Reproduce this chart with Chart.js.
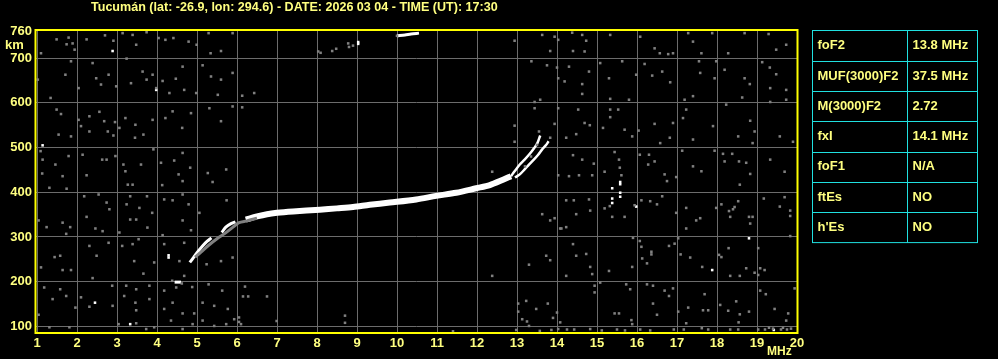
<!DOCTYPE html>
<html><head><meta charset="utf-8">
<script src="https://cdn.jsdelivr.net/npm/chart.js@4"></script>
<style>html,body{margin:0;padding:0;background:#000;overflow:hidden}canvas{display:block}</style>
</head><body>
<canvas id="c" width="998" height="359"></canvas>
<script>
// ---------- data ----------
const titleText = "Tucumán (lat: -26.9, lon: 294.6) - DATE: 2026 03 04 - TIME (UT): 17:30";
const freqTicks = [1,2,3,4,5,6,7,8,9,10,11,12,13,14,15,16,17,18,19,20];
const heightTicks = [100,200,300,400,500,600,700,760];
const tableLabels = ["foF2","MUF(3000)F2","M(3000)F2","fxI","foF1","ftEs","h'Es"];
const tableValues = ["13.8 MHz","37.5 MHz","2.72","14.1 MHz","N/A","NO","NO"];

// trace (frequency MHz, virtual height km)
const lowTraceF  = [4.82,4.92,5.03,5.15,5.25,5.36];
const lowTraceKm = [243, 255, 268, 281, 290, 298];
const lowTrace2F  = [5.62,5.72,5.85,5.96];
const lowTrace2Km = [310, 322, 330, 334];
const shadowF  = [4.95,5.1,5.3,5.5,5.7,5.9,6.05,6.25,6.5];
const shadowKm = [255, 266,282,296,308,322,332, 336, 342];
const mainTraceF  = [6.22,6.5,6.75,7.0,7.4,8.07,8.5,8.9,9.32,9.82,10.48,10.98,11.48,11.98,12.32,12.65,12.85];
const mainTraceKm = [339, 346,351, 354,357,361, 364,367,372, 377, 384,  392,  399,  409,  416,  428,  436];
const branchAF  = [12.85,12.94,13.07,13.19,13.32,13.43,13.51,13.58];
const branchAKm = [436,  447,  462,  473,  486,  499,  510,  527];
const branchBF  = [12.95,13.07,13.19,13.30,13.42,13.53,13.63,13.72,13.79];
const branchBKm = [433,  440,  451,  462,  473,  484,  496,  505,  514];
const topTraceF  = [10.0,10.2,10.35,10.55];
const topTraceKm = [750, 752, 754, 756];
const blobF  = [4.44,4.6];
const blobKm = [199, 199];

const whiteDots = [[2.89,716],[1.14,505],[2.45,153],[3.33,105],[3.98,629],[4.29,259],[4.29,254],[9.03,732],[9.03,736],
 [15.58,423],[15.58,418],[15.38,409],[15.38,386],[15.38,376],[15.58,399],[15.58,390],[15.98,368],[18.80,297],[17.88,226],[19.42,92]];

const greyDots = [
 [1.79,746],[1.49,742],[1.89,733],[1.74,731],[1.94,719],[1.10,711],[2.24,742],[2.70,751],[2.91,739],[3.14,756],[3.39,752],[3.48,730],
 [3.74,758],[4.04,745],[4.21,741],[4.41,745],[4.79,737],[4.99,730],[5.29,756],[5.60,716],[5.89,756],[5.34,711],[2.39,689],[1.85,693],
 [3.24,699],[3.64,670],[3.89,663],[4.14,649],[4.47,654],[4.64,681],[5.14,684],[5.35,659],[5.60,652],[5.89,667],[1.02,652],[1.71,663],
 [2.04,633],[2.48,655],[2.60,641],[2.79,663],[2.98,637],[3.35,644],[3.74,652],[3.98,633],[4.31,622],[4.68,629],[4.98,622],[5.52,618],
 [1.34,611],[1.49,585],[1.60,575],[2.04,562],[2.10,548],[2.31,570],[2.56,580],[2.68,559],[2.77,536],[2.95,557],[3.06,544],[3.21,566],
 [3.46,551],[3.66,529],[3.89,562],[4.21,566],[4.39,581],[4.63,544],[4.85,577],[5.31,588],[5.60,559],[5.89,592],[1.54,529],[1.85,525],
 [2.31,536],[2.91,527],[3.45,522],[1.09,492],[1.14,473],[1.13,442],[1.46,462],[1.64,436],[1.79,481],[2.14,484],[2.24,438],[2.63,473],
 [2.74,473],[2.96,481],[3.16,462],[3.21,447],[3.27,417],[3.39,417],[3.60,462],[3.91,496],[4.10,466],[4.13,416],[4.43,471],[4.54,440],
 [4.64,488],[4.64,425],[4.83,455],[5.27,443],[5.39,423],[5.73,451],[1.31,410],[1.74,408],[2.18,391],[2.54,395],[2.74,377],[2.81,362],
 [3.24,373],[3.33,391],[3.48,339],[3.56,365],[3.75,391],[3.88,354],[4.18,384],[4.39,382],[4.64,395],[4.79,373],[5.06,354],[5.74,382],
 [1.04,337],[1.24,322],[1.64,332],[1.73,307],[1.83,322],[2.24,345],[2.46,319],[2.64,313],[3.06,310],[3.33,339],[3.76,321],[4.14,304],
 [4.64,337],[4.85,315],[2.31,280],[2.49,258],[2.79,287],[3.13,280],[3.39,284],[3.54,295],[3.43,246],[3.66,218],[3.93,243],[4.18,284],
 [4.56,246],[4.68,287],[5.24,239],[5.60,246],[5.89,254],[1.44,255],[1.58,258],[1.10,232],[1.64,226],[1.85,226],[2.39,208],[2.88,191],
 [3.23,191],[3.48,183],[3.81,191],[4.18,180],[4.48,187],[4.68,213],[4.88,188],[5.29,194],[5.63,180],[1.18,187],[1.58,183],[1.73,168],
 [1.39,161],[1.96,142],[2.31,144],[2.10,165],[2.89,146],[3.18,168],[3.46,153],[3.48,136],[3.81,161],[4.18,139],[4.39,153],[4.64,129],
 [4.93,129],[5.14,153],[5.43,146],[5.77,139],[1.04,126],[1.31,98],[1.81,98],[3.04,105],[3.48,107],[3.73,94],[3.93,98],[4.35,113],
 [4.64,94],[4.89,105],[5.14,113],[5.43,101],[5.73,105],[5.93,116],[4.38,202],[4.62,196],[6.05,120],[6.05,110],[6.1,105],
 [6.2,189],[6.15,167],[6.28,167],[6.75,167],[6.99,112],[8.7,124],[8.7,108],[11.4,89],
 [8.03,715],[8.09,712],[8.38,716],[8.48,721],[8.78,733],[8.9,728],[8.8,725],[6.13,616],[6.43,622],[6.13,590],[10.0,750],
 [12.94,739],[13.63,752],[13.83,716],[13.94,748],[14.03,741],[13.36,693],[13.75,684],[14.0,679],[14.03,655],[13.44,602],[13.58,607],
 [13.44,588],[14.03,588],[13.94,553],[12.94,549],[12.94,513],[13.83,522],[12.38,446],[14.03,438],[13.63,351],[13.83,337],[13.94,342],
 [14.08,319],[13.73,258],[13.83,248],[13.3,238],[12.38,213],[13.03,151],[13.23,157],[13.03,133],[13.48,139],[13.77,151],[14.0,131],
 [13.9,119],[13.13,116],[13.25,111],[13.3,101],[14.08,109],[12.98,92],[13.57,90],[13.86,92],[14.03,94],[13.55,536],[13.5,506],[13.2,458],[13.35,480],
 [14.38,757],[14.63,752],[14.73,739],[14.40,716],[14.69,715],[15.33,752],[16.08,748],[16.44,722],[16.57,711],[16.78,709],[16.90,711],
 [17.28,756],[17.40,737],[17.61,711],[17.88,756],[18.28,711],[18.69,756],[19.29,754],[19.48,719],[19.73,730],[14.30,681],[14.80,670],
 [14.19,648],[14.63,642],[14.63,620],[15.08,689],[15.30,655],[15.33,609],[15.80,607],[15.63,693],[15.98,663],[16.19,687],[16.38,661],
 [16.63,670],[16.83,646],[17.19,607],[17.40,615],[17.55,693],[17.58,667],[17.98,693],[17.94,655],[18.19,674],[18.69,655],[18.82,642],
 [18.63,612],[19.13,691],[19.32,679],[19.48,664],[19.33,633],[19.73,629],[19.73,607],[14.53,585],[14.69,555],[14.82,550],[14.48,530],
 [14.23,522],[15.33,585],[15.33,568],[15.53,585],[15.15,544],[15.69,540],[15.88,525],[16.04,538],[16.44,553],[16.58,510],[16.90,555],
 [16.82,522],[17.23,585],[17.15,566],[17.40,518],[17.90,548],[18.23,596],[18.53,525],[18.83,560],[18.94,536],[18.89,510],[19.33,602],
 [19.57,525],[19.90,513],[14.40,483],[14.63,473],[14.92,464],[14.30,436],[14.55,438],[14.88,438],[15.19,446],[15.44,490],[15.55,473],
 [15.57,455],[15.61,438],[16.07,484],[16.30,484],[16.28,462],[16.44,469],[16.69,440],[16.75,425],[16.98,434],[17.13,493],[17.40,458],
 [17.61,447],[17.94,493],[18.15,486],[18.38,486],[18.19,469],[18.55,469],[18.73,466],[18.83,441],[18.57,417],[19.33,473],[19.69,446],
 [14.23,382],[14.42,382],[14.80,384],[14.83,359],[14.48,351],[14.23,322],[14.11,319],[15.19,364],[15.32,369],[15.69,345],[15.38,345],
 [15.94,371],[16.11,382],[16.33,380],[16.50,373],[16.63,391],[16.98,354],[17.23,365],[17.23,319],[17.48,337],[17.58,342],[17.98,365],
 [18.11,373],[18.30,358],[18.40,362],[18.44,367],[18.53,380],[18.33,345],[18.80,345],[18.89,345],[18.83,330],[19.17,386],[19.57,368],
 [19.69,389],[19.83,359],[19.83,347],[19.83,302],[16.07,291],[16.11,278],[16.36,267],[16.36,261],[16.13,252],[16.25,241],[15.88,233],
 [15.90,298],[16.80,280],[16.94,285],[17.03,297],[17.09,261],[17.33,254],[17.63,233],[18.05,260],[18.11,255],[18.29,275],[18.33,213],
 [18.57,213],[18.73,230],[18.94,220],[19.03,215],[19.08,230],[19.19,226],[19.03,275],[14.40,284],[14.48,258],[14.73,262],[14.83,233],
 [14.88,217],[14.23,213],[15.30,224],[15.08,198],[14.94,191],[14.94,176],[15.44,129],[15.55,129],[15.73,194],[15.83,183],[15.86,114],
 [15.88,105],[16.25,194],[16.40,191],[16.40,151],[16.50,126],[16.69,180],[16.80,168],[16.90,185],[17.03,133],[17.23,107],[17.28,142],
 [17.69,172],[17.65,136],[17.78,136],[18.08,148],[18.28,135],[18.48,156],[18.57,127],[18.54,109],[18.80,133],[19.08,180],[19.22,172],
 [19.44,139],[19.78,129],[19.73,113],[19.94,185],
 [14.25,93],[14.43,93],[14.83,94],[15.12,91],[15.5,93],[15.7,91],[16.08,93],[16.33,91],[16.92,93],[17.17,93],[17.62,96],[17.78,93],
 [18.33,93],[18.53,93],[19.03,93],[19.2,93],[19.4,95],[19.6,93],[19.75,93],[19.85,95],[19.65,97],[19.3,97]
];

// ---------- helpers ----------
function pts(fs, ks){ return fs.map((f,i)=>({x:f,y:ks[i]})); }
function pairPts(arr){ return arr.map(p=>({x:p[0],y:p[1]})); }

const YELLOW = '#ffff00';
const TEXT = '#ffff80';
const GRID = 'rgb(108,108,108)';
const GREY = 'rgb(128,128,128)';
const FONT = '"Liberation Sans", Arial, sans-serif';

function lineDS(data, color, width){
  return {type:'line', data, borderColor:color, backgroundColor:color, borderWidth:width,
    pointRadius:0, tension:0.3, fill:false, showLine:true, borderCapStyle:'butt', borderJoinStyle:'round'};
}
function dotDS(data, color, r){
  return {type:'scatter', data, backgroundColor:color, borderColor:color, borderWidth:0,
    pointStyle:'rect', pointRadius:r, showLine:false};
}

const framePlugin = {
  id:'frame',
  afterDatasetsDraw(chart){
    const {ctx, chartArea:a} = chart;
    ctx.save();
    ctx.strokeStyle = YELLOW; ctx.lineWidth = 2;
    ctx.strokeRect(a.left-0.5, a.top, a.right-a.left+1, a.bottom-a.top);
    ctx.restore();
  },
  afterDraw(chart){
    const {ctx} = chart;
    ctx.save();
    ctx.fillStyle = TEXT;
    // title
    ctx.font = 'bold 13px ' + FONT;
    const w = ctx.measureText(titleText).width;
    const size = 13 * 407 / w;
    ctx.font = 'bold ' + size.toFixed(2) + 'px ' + FONT;
    ctx.textBaseline = 'middle'; ctx.textAlign = 'left';
    ctx.fillText(titleText, 91, 8);
    // axis units
    ctx.font = 'bold 13px ' + FONT;
    ctx.fillText('km', 5, 45);
    ctx.font = 'bold 12px ' + FONT;
    ctx.fillText('MHz', 767, 352);
    // table
    const x0 = 812.5, x1 = 907.5, x2 = 977.5, y0 = 30.5, rh = 30.3;
    ctx.strokeStyle = '#20e0e0'; ctx.lineWidth = 1;
    const n = tableLabels.length;
    ctx.strokeRect(x0, y0, x2-x0, rh*n);
    ctx.beginPath();
    ctx.moveTo(x1, y0); ctx.lineTo(x1, y0+rh*n);
    for (let i=1;i<n;i++){ const y = Math.round(y0+rh*i)+0.5; ctx.moveTo(x0,y); ctx.lineTo(x2,y); }
    ctx.stroke();
    ctx.font = 'bold 13px ' + FONT;
    ctx.fillStyle = TEXT;
    for (let i=0;i<n;i++){
      const yc = y0 + rh*i + rh/2;
      ctx.fillText(tableLabels[i], 817.5, yc);
      ctx.fillText(tableValues[i], 912.5, yc);
    }
    ctx.restore();
  }
};

const bgPlugin = {
  id:'bg',
  beforeDraw(chart){ const c=chart.ctx; c.save(); c.fillStyle='#000'; c.fillRect(0,0,chart.width,chart.height); c.restore(); }
};

new Chart(document.getElementById('c'), {
  data:{ datasets:[
    dotDS(pairPts(greyDots), GREY, 1.8),
    lineDS(pts(shadowF, shadowKm), GREY, 3),
    lineDS(pts(lowTraceF, lowTraceKm), '#ffffff', 3),
    lineDS(pts(lowTrace2F, lowTrace2Km), '#ffffff', 3),
    lineDS(pts(mainTraceF, mainTraceKm), '#ffffff', 6),
    lineDS(pts(branchAF, branchAKm), '#ffffff', 2.5),
    lineDS(pts(branchBF, branchBKm), '#ffffff', 2.5),
    lineDS(pts(topTraceF, topTraceKm), '#ffffff', 3),
    lineDS(pts(blobF, blobKm), '#ffffff', 3),
    dotDS(pairPts(whiteDots), '#ffffff', 1.8)
  ]},
  options:{
    responsive:false, animation:false, devicePixelRatio:1,
    layout:{ padding:{ top:30, right:201, left:0, bottom:0 } },
    plugins:{ legend:{display:false}, tooltip:{enabled:false}, title:{display:false} },
    scales:{
      x:{ type:'linear', min:0.975, max:20,
        afterBuildTicks(s){ s.ticks = freqTicks.map(v=>({value:v})); },
        afterFit(s){ s.height = 26; },
        grid:{ color:GRID, lineWidth:1, drawTicks:false },
        border:{ display:false },
        ticks:{ color:TEXT, font:{ family:FONT, size:13, weight:'bold' }, padding:3, autoSkip:false, maxRotation:0,
          callback:v=>String(v) }
      },
      y:{ type:'linear', min:85.2, max:763,
        afterBuildTicks(s){ s.ticks = heightTicks.map(v=>({value:v})); },
        afterFit(s){ s.width = 36; },
        grid:{ color:c=> (c.tick && c.tick.value===760) ? 'rgba(0,0,0,0)' : GRID, lineWidth:1, drawTicks:false },
        border:{ display:false },
        ticks:{ color:TEXT, font:{ family:FONT, size:13, weight:'bold' }, padding:4, autoSkip:false,
          callback:v=>String(v) }
      }
    }
  },
  plugins:[bgPlugin, framePlugin]
});
</script>
</body></html>
